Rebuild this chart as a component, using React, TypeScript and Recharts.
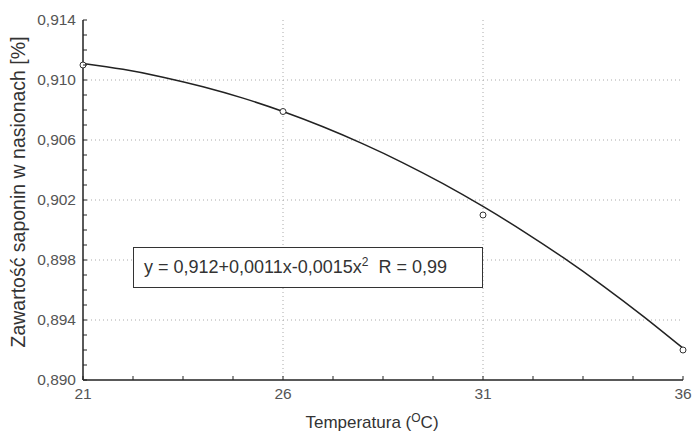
import React from "react";
import {
  ComposedChart,
  CartesianGrid,
  XAxis,
  YAxis,
  Line,
  Scatter,
} from "recharts";

// measured points
const tempPoints = [21, 26, 31, 36];
const saponinPoints = [0.911, 0.9079, 0.901, 0.892];

// fitted curve
const curveTemps = [21, 22, 23, 24, 25, 26, 27, 28, 29, 30, 31, 32, 33, 34, 35, 36];
const curveValues = [
  0.9111, 0.91071, 0.91019, 0.90955, 0.90879, 0.9079, 0.90688, 0.90574, 0.90448, 0.90309,
  0.90157, 0.89993, 0.89817, 0.89628, 0.89426, 0.89212,
];

const xTicks = [21, 22.25, 23.5, 24.75, 26, 27.25, 28.5, 29.75, 31, 32.25, 33.5, 34.75, 36];
const xMajor = [21, 26, 31, 36];
const yTicks = Array.from({ length: 25 }, (_, i) => +(0.89 + i * 0.001).toFixed(3));
const yMajor = [0.89, 0.894, 0.898, 0.902, 0.906, 0.91, 0.914];

const pointData = tempPoints.map((t, i) => ({ x: t, y: saponinPoints[i] }));
const curveData = curveTemps.map((t, i) => ({ x: t, fit: curveValues[i] }));

const FONT = "'Liberation Sans', Arial, sans-serif";
const TEXT = "#555";

const isMajor = (list: number[], v: number) => list.some((m) => Math.abs(m - v) < 1e-6);

const YTick = (props: any) => {
  const { x, y, payload } = props;
  return (
    <g>
      <line x1={x + 7} x2={x + 11} y1={y} y2={y} stroke="#222" />
      {isMajor(yMajor, payload.value) && (
        <text x={x} y={y} dy={5} textAnchor="end" fill={TEXT} fontSize={15.5} fontFamily={FONT}>
          {payload.value.toFixed(3).replace(".", ",")}
        </text>
      )}
    </g>
  );
};

const XTick = (props: any) => {
  const { x, y, payload } = props;
  return (
    <g>
      <line x1={x} x2={x} y1={y - 8} y2={y - 12} stroke="#222" />
      {isMajor(xMajor, payload.value) && (
        <text x={x} y={y} dy={11} textAnchor="middle" fill={TEXT} fontSize={15.5} fontFamily={FONT}>
          {payload.value}
        </text>
      )}
    </g>
  );
};

const TopTick = (props: any) => {
  const { x, y } = props;
  return <line x1={x} x2={x} y1={y} y2={y + 4} stroke="#222" />;
};

const RightTick = (props: any) => {
  const { x, y } = props;
  return <line x1={x} x2={x - 4} y1={y} y2={y} stroke="#222" />;
};

const Circle = (props: any) => {
  const { cx, cy } = props;
  return <circle cx={cx} cy={cy} r={3} fill="white" stroke="#333" strokeWidth={1} />;
};

export default function App() {
  return (
    <div style={{ position: "absolute", left: 0, top: 0, width: 694, height: 441, background: "#fff" }}>
      <ComposedChart
        width={694}
        height={441}
        margin={{ top: 20, right: 11, left: 0, bottom: 0 }}
      >
        <CartesianGrid
          stroke="#aaa"
          strokeDasharray="1 3"
          verticalValues={[26, 31]}
          horizontalValues={[0.894, 0.898, 0.902, 0.906, 0.91]}
        />
        <XAxis
          xAxisId={0}
          type="number"
          dataKey="x"
          domain={[21, 36]}
          ticks={xTicks}
          interval={0}
          height={61}
          tickSize={0}
          tickMargin={8}
          tick={<XTick />}
          axisLine={{ stroke: "#222", strokeWidth: 1.5 }}
          tickLine={false}
          label={(p: any) => {
            const vb = p.viewBox;
            return (
              <text
                x={vb.x + vb.width / 2 - 11}
                y={vb.y + 48}
                textAnchor="middle"
                fill="#333"
                fontSize={17}
                fontFamily={FONT}
              >
                Temperatura (
                <tspan fontSize={12} dy={-6}>O</tspan>
                <tspan dy={6}>C)</tspan>
              </text>
            );
          }}
        />
        <XAxis
          xAxisId="top"
          orientation="top"
          type="number"
          domain={[21, 36]}
          ticks={xTicks}
          interval={0}
          height={0}
          tickSize={0}
          tickMargin={0}
          tick={<TopTick />}
          tickLine={false}
          axisLine={{ stroke: "#222" }}
        />
        <YAxis
          yAxisId={0}
          type="number"
          domain={[0.89, 0.914]}
          ticks={yTicks}
          interval={0}
          width={83}
          tickSize={0}
          tickMargin={7}
          tick={<YTick />}
          tickLine={false}
          axisLine={{ stroke: "#222", strokeWidth: 1.5 }}
          label={(p: any) => {
            const vb = p.viewBox;
            const cx = 18;
            const cy = vb.y + vb.height / 2 - 8;
            return (
              <text
                x={cx}
                y={cy}
                transform={`rotate(-90 ${cx} ${cy})`}
                textAnchor="middle"
                dominantBaseline="central"
                fill="#333"
                fontSize={19.5}
                fontFamily={FONT}
              >
                Zawartość saponin w nasionach [%]
              </text>
            );
          }}
        />
        <YAxis
          yAxisId="right"
          orientation="right"
          type="number"
          domain={[0.89, 0.914]}
          ticks={yTicks}
          interval={0}
          width={0}
          tickSize={0}
          tickMargin={0}
          tick={<RightTick />}
          tickLine={false}
          axisLine={{ stroke: "#222" }}
        />
        <Line
          data={curveData}
          dataKey="fit"
          type="natural"
          stroke="#222"
          strokeWidth={1.5}
          dot={false}
          isAnimationActive={false}
        />
        <Scatter data={pointData} dataKey="y" shape={<Circle />} isAnimationActive={false} />
      </ComposedChart>
      <div
        style={{
          position: "absolute",
          left: 133,
          top: 247,
          width: 338,
          height: 39,
          border: "1px solid #333",
          background: "#fff",
          fontFamily: FONT,
          fontSize: 18,
          color: "#333",
          lineHeight: "39px",
          paddingLeft: 10,
          boxSizing: "content-box",
          whiteSpace: "nowrap",
        }}
      >
        y = 0,912+0,0011x-0,0015x<sup style={{ fontSize: 12, lineHeight: 0 }}>2</sup>&nbsp; R = 0,99
      </div>
    </div>
  );
}
